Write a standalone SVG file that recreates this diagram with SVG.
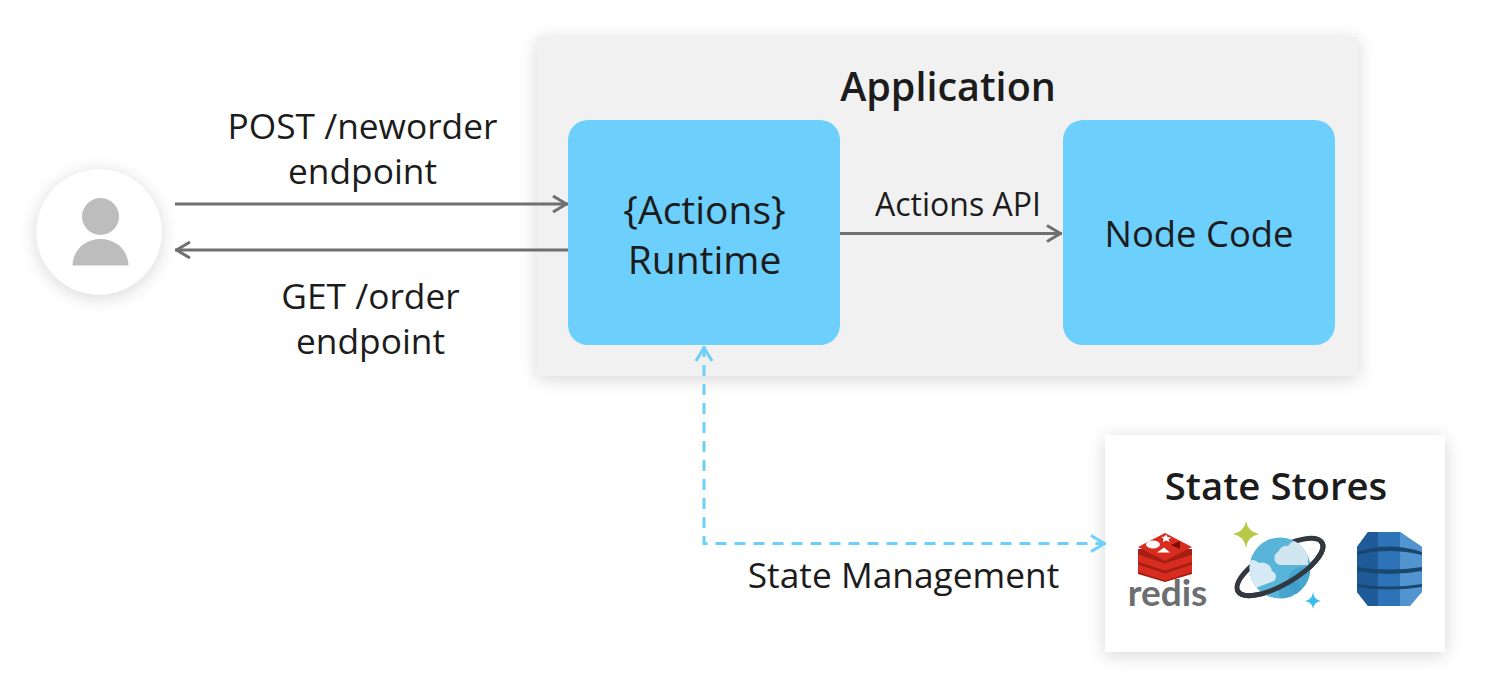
<svg xmlns="http://www.w3.org/2000/svg" width="1486" height="696" viewBox="0 0 1486 696">
<style>
text{font-family:"Open Sans","Noto Sans","Liberation Sans",sans-serif;fill:#1c1c1c;text-anchor:middle}
.l{font-size:39px}
.m{font-size:35.300px}
.b{font-weight:600}
.box{fill:#6dcffc}
.c{fill:none;stroke:#6f6f6f;stroke-width:3}
.d{fill:none;stroke:#6dcffc;stroke-width:3;stroke-dasharray:11 8}
</style>
<defs>
<filter id="sh" x="-30%" y="-30%" width="160%" height="160%"><feDropShadow dx="0" dy="3" stdDeviation="9" flood-color="#000" flood-opacity=".16"/></filter>
<marker id="a" viewBox="0 0 20 20" refX="17" refY="10" markerWidth="20" markerHeight="20" markerUnits="userSpaceOnUse" orient="auto-start-reverse"><path d="M2 2L15.500 10L2 18" fill="none" stroke="#6f6f6f" stroke-width="3" stroke-linejoin="round"/></marker>
<marker id="b" viewBox="0 0 20 20" refX="17" refY="10" markerWidth="20" markerHeight="20" markerUnits="userSpaceOnUse" orient="auto-start-reverse"><path d="M2 2L15.500 10L2 18" fill="none" stroke="#6dcffc" stroke-width="3" stroke-linejoin="round"/></marker>
<clipPath id="pl"><circle cx="1280" cy="568" r="30.500"/></clipPath>
</defs>
<g id="user">
<circle cx="99" cy="232" r="62.500" fill="#fff" filter="url(#sh)"/>
<circle cx="100.500" cy="216.500" r="18.500" fill="#bdbdbd"/>
<path d="M72.500 265.500C73 250 85 239 100.500 239S128 250 128.500 265.500Z" fill="#bdbdbd"/>
</g>
<g id="application">
<rect x="537" y="37" width="821" height="339" fill="#f1f1f1" filter="url(#sh)"/>
<text x="948" y="101" class="b" style="font-size:39.500px">Application</text>
</g>
<g id="runtime">
<rect x="568" y="120" width="272" height="225" rx="20" class="box"/>
<text x="704.500" y="224" class="l">{Actions}</text>
<text x="704.500" y="274" class="l">Runtime</text>
</g>
<g id="node-code">
<rect x="1063" y="120" width="272" height="225" rx="20" class="box"/>
<text x="1199" y="247" style="font-size:36.400px">Node Code</text>
</g>
<g id="state-stores">
<rect x="1105" y="435" width="340" height="217" fill="#fff" filter="url(#sh)"/>
<text x="1276" y="500" class="b" style="font-size:38.300px">State Stores</text>
<g id="redis-icon">
<path d="M1138 549V574L1165 582L1192 574V549Z" fill="#a41e11"/>
<path d="M1138 564.500L1165 573.500L1192 564.500V572L1165 580.500L1138 572Z" fill="#d82c20"/>
<path d="M1138 554.500L1165 563.500L1192 554.500V562L1165 570.500L1138 562Z" fill="#d82c20"/>
<path d="M1138 547L1165 533L1192 547L1165 561Z" fill="#d82c20"/>
<ellipse cx="1153" cy="544.500" rx="7" ry="4" fill="#fff"/>
<path d="M1166 534.500l1.500 2.500 3.500 .5-2.500 2 1 2.500-3.500-1.500-3 1.500 .5-3-2-2 3-.5Z" fill="#fff"/>
<path d="M1157 552.500L1170 552.500L1164 547.500Z" fill="#fff"/>
<path d="M1171 545L1180 541V549Z" fill="#7a0c00"/>
<text x="1167.500" y="606" style="font-family:'Lato','Noto Sans',sans-serif;font-size:37px;font-weight:700;fill:#6d6e71">redis</text>
</g>
<g id="cosmos-icon">
<ellipse cx="1280" cy="567" rx="48.500" ry="17.500" transform="rotate(-30 1280 567)" fill="none" stroke="#32383e" stroke-width="5"/>
<circle cx="1280" cy="568" r="30.500" fill="#59b4d9"/>
<g clip-path="url(#pl)">
<circle cx="1302" cy="581" r="14" fill="#3999c6" opacity=".55"/>
<circle cx="1290" cy="592" r="11" fill="#3999c6" opacity=".55"/>
<path d="M1280 565a7 7 0 0 1-2-13a9 9 0 0 1 10-6a11 11 0 0 1 20 3v16Z" fill="#cfe6f1"/>
<path d="M1245 592V564a9 9 0 0 1 14-1a10 10 0 0 1 13 8a6 6 0 0 1 2 10Z" fill="#d5eaf4"/>
</g>
<path d="M1238 591.300A48.500 17.500 -30 0 0 1322 542.700" fill="none" stroke="#32383e" stroke-width="5" stroke-linecap="round"/>
<path d="M1246 521Q1248 532 1259 534Q1248 536 1246 548Q1244 536 1233 534Q1244 532 1246 521Z" fill="#b8c94a"/>
<path d="M1313 592Q1314 600 1321 601Q1314 602 1313 609Q1312 602 1305 601Q1312 600 1313 592Z" fill="#3bbdf0"/>
</g>
<g id="dynamodb-icon">
<path d="M1368 532H1400L1422 547V592L1400 606H1368L1357 592V547Z" fill="#2e73b8"/>
<path d="M1368 532L1357 547V592L1368 606H1378V532Z" fill="#205b99"/>
<path d="M1400 532L1422 547V592L1410 606H1400Z" fill="#5294cf"/>
<path d="M1357 552Q1389 541 1422 552V555Q1389 547 1357 555Z" fill="#1a476f"/>
<path d="M1357 567Q1389 572 1422 567V571Q1389 577 1357 571Z" fill="#1a476f"/>
<path d="M1357 584Q1389 589 1422 584V587Q1389 592 1357 587Z" fill="#1a476f"/>
</g>
</g>
<g id="connectors">
<path class="c" d="M175 204H568" marker-end="url(#a)"/>
<path class="c" d="M568 250H175" marker-end="url(#a)"/>
<path class="c" d="M840 233.500H1062" marker-end="url(#a)"/>
<path class="d" d="M704 346V543.500H1106" marker-start="url(#b)" marker-end="url(#b)"/>
</g>
<g id="labels">
<text x="362.500" y="139" class="m">POST /neworder</text>
<text x="362.500" y="184" class="m">endpoint</text>
<text x="370.500" y="309" class="m">GET /order</text>
<text x="370.500" y="354" class="m">endpoint</text>
<text x="958" y="216" style="font-size:32px">Actions API</text>
<text x="903.500" y="588" class="m">State Management</text>
</g>
</svg>
